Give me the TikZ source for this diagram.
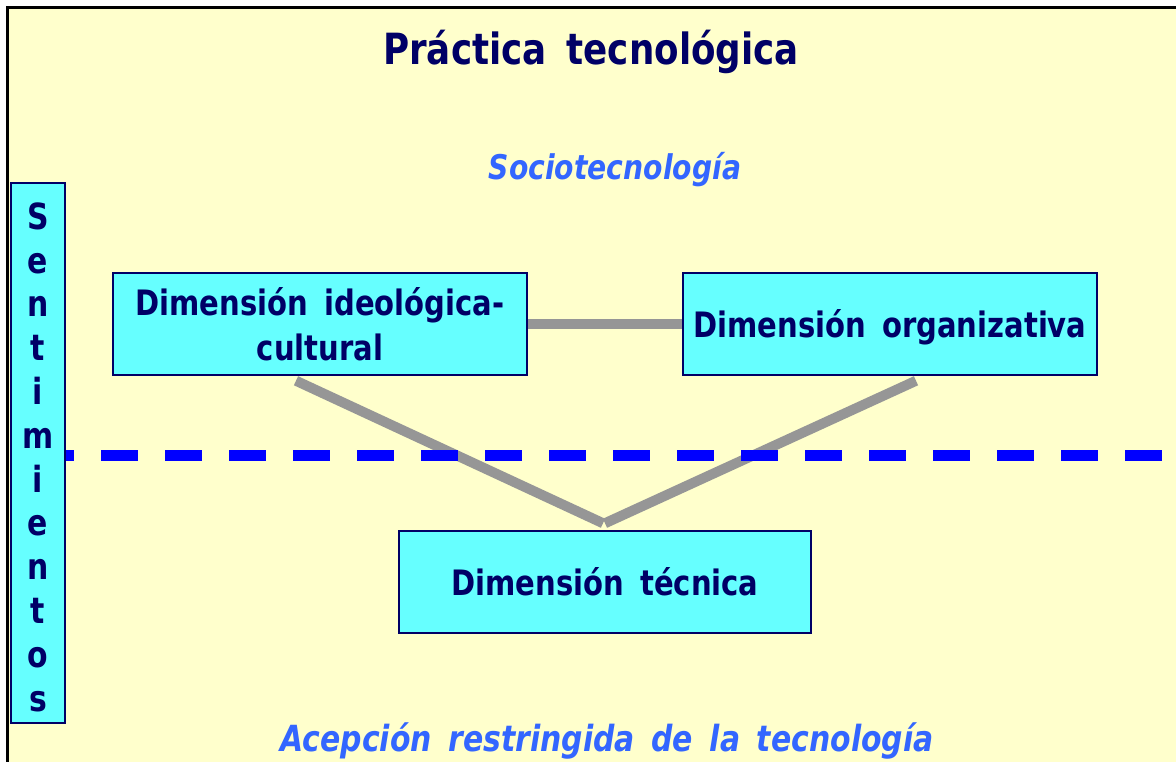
\documentclass[tikz,border=0pt]{standalone}
\usepackage{fontspec}
\setmainfont[FakeStretch=0.83,WordSpace=1.6]{DejaVu Sans}
\definecolor{paper}{HTML}{FFFFCC}
\definecolor{navy}{HTML}{000066}
\definecolor{boxcyan}{HTML}{66FFFF}
\definecolor{linkgray}{HTML}{969696}
\definecolor{labelblue}{HTML}{3366FF}

\begin{document}
\begin{tikzpicture}[x=1pt,y=-1pt,
  dimbox/.style={draw=navy,line width=1.5pt,fill=boxcyan,text=navy,align=center,
    minimum width=414pt,minimum height=102pt,inner sep=0pt,
    font=\fontsize{35}{45}\selectfont\bfseries},
  link/.style={draw=linkgray,line width=10pt},
  caption/.style={text=labelblue,anchor=base,font=\fontsize{34}{40}\selectfont\bfseries\itshape}]
  \useasboundingbox (0,0) rectangle (1176,762);
  \fill[white] (0,0) rectangle (1176,762);
  \fill[paper] (7.5,7.5) rectangle (1176,762);
  \draw[line width=2.5pt] (7.5,762) -- (7.5,7.5) -- (1176,7.5);
  \node[text=navy,anchor=base,font=\fontsize{43}{50}\selectfont\bfseries] (title) at (591,65) {Práctica tecnológica};
  \node[caption] (socio) at (615,180) {Sociotecnología};
  \node[caption,font=\fontsize{36}{40}\selectfont\bfseries\itshape] (acepcion) at (607,751) {Acepción restringida de la tecnología};
  \node[dimbox] (ideo) at (320,324) {Dimensión ideológica-\\cultural};
  \node[dimbox,text depth=0pt] (orga) at (890,324) {Dimensión organizativa};
  \node[dimbox,minimum width=412pt] (tecn) at (605,582) {Dimensión técnica};
  \draw[link] (ideo.east) -- (orga.west);
  \draw[link] ([xshift=-24pt,yshift=-5pt]ideo.south) -- ([xshift=-2pt,yshift=7pt]tecn.north);
  \draw[link] ([xshift=26pt,yshift=-5pt]orga.south) -- ([yshift=7pt]tecn.north);
  \draw[blue,line width=11pt,dash pattern=on 37pt off 27pt] (37,455) -- (1176,455);
  \node[draw=navy,line width=1.5pt,fill=boxcyan,text=navy,align=center,
    minimum width=54pt,minimum height=540pt,inner sep=0pt,
    font=\fontsize{36}{43.8}\selectfont\bfseries] (sent) at (38,453)
    {\rule{0pt}{35pt}S\\e\\n\\t\\i\\m\\i\\e\\n\\t\\o\\s};
\end{tikzpicture}
\end{document}
